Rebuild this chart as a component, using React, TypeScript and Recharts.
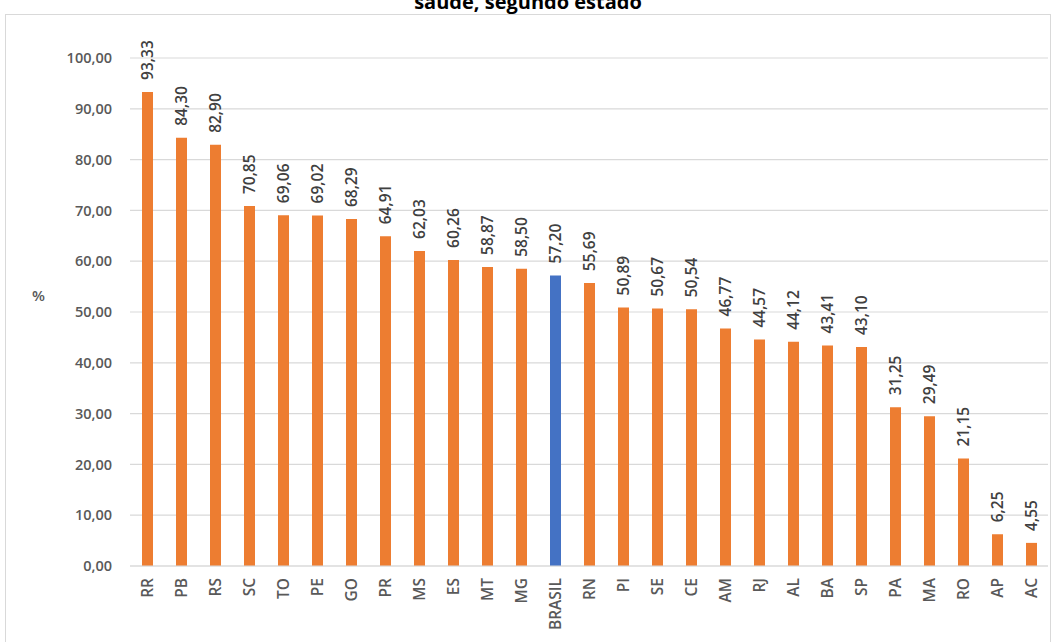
import { BarChart, Bar, XAxis, YAxis, CartesianGrid, Cell, LabelList } from "recharts";

const states = [
  "RR", "PB", "RS", "SC", "TO", "PE", "GO", "PR", "MS", "ES", "MT", "MG", "BRASIL",
  "RN", "PI", "SE", "CE", "AM", "RJ", "AL", "BA", "SP", "PA", "MA", "RO", "AP", "AC",
];

const percentages = [
  93.33, 84.3, 82.9, 70.85, 69.06, 69.02, 68.29, 64.91, 62.03, 60.26, 58.87, 58.5, 57.2,
  55.69, 50.89, 50.67, 50.54, 46.77, 44.57, 44.12, 43.41, 43.1, 31.25, 29.49, 21.15, 6.25, 4.55,
];

const yTicks = [0, 10, 20, 30, 40, 50, 60, 70, 80, 90, 100];

const highlight = "BRASIL";

const data = states.map((state, i) => ({ state, value: percentages[i] }));

const FONT = "'Open Sans', Lato, sans-serif";

function fmt(v: number): string {
  return v.toFixed(2).replace(".", ",");
}

function StateTick(props: any) {
  const { x, y, payload } = props;
  return (
    <text
      x={x}
      y={y + 4}
      transform={`rotate(-90, ${x}, ${y + 4})`}
      textAnchor="end"
      dy="0.36em"
      fill="#595959"
      fontSize={15.5}
      fontWeight={600}
      fontFamily={FONT}
    >
      {payload.value}
    </text>
  );
}

function ValueLabel(props: any) {
  const { x, y, width, value } = props;
  const cx = x + width / 2;
  const ly = y - 12;
  return (
    <text
      x={cx}
      y={ly}
      transform={`rotate(-90, ${cx}, ${ly})`}
      textAnchor="start"
      dy="0.36em"
      fill="#404040"
      fontSize={15.5}
      fontWeight={600}
      fontFamily={FONT}
    >
      {fmt(value)}
    </text>
  );
}

export default function App() {
  return (
    <div
      style={{
        position: "absolute",
        left: 0,
        top: 0,
        width: 1053,
        height: 642,
        overflow: "hidden",
        background: "#fff",
        fontFamily: FONT,
      }}
    >
      <div
        style={{
          position: "absolute",
          left: 0,
          width: 1056,
          top: -8,
          lineHeight: "20px",
          textAlign: "center",
          fontSize: 20,
          fontWeight: 700,
          color: "#000",
        }}
      >
        saúde, segundo estado
      </div>
      <div
        style={{
          position: "absolute",
          left: 5,
          top: 14,
          width: 1044,
          height: 700,
          border: "1px solid #d9d9d9",
          background: "#fff",
        }}
      />
      <div
        style={{
          position: "absolute",
          left: 32,
          top: 285,
          fontSize: 15,
          fontWeight: 600,
          color: "#595959",
        }}
      >
        %
      </div>
      <div style={{ position: "absolute", left: 0, top: 0 }}>
        <BarChart
          width={1053}
          height={642}
          data={data}
          margin={{ top: 58, right: 5, bottom: 6, left: 0 }}
          barCategoryGap={0}
        >
          <CartesianGrid vertical={false} stroke="#d9d9d9" strokeWidth={1.2} />
          <XAxis
            dataKey="state"
            interval={0}
            tickLine={false}
            axisLine={{ stroke: "#d9d9d9", strokeWidth: 1.2 }}
            height={70}
            tick={<StateTick />}
          />
          <YAxis
            width={130}
            domain={[0, 100]}
            ticks={yTicks}
            tickLine={false}
            axisLine={false}
            tickSize={6}
            tickMargin={12}
            tickFormatter={fmt}
            tick={{ fill: "#595959", fontSize: 14.5, fontWeight: 600, fontFamily: FONT }}
          />
          <Bar dataKey="value" barSize={11} isAnimationActive={false}>
            {data.map((d) => (
              <Cell key={d.state} fill={d.state === highlight ? "#4472c4" : "#ed7d31"} />
            ))}
            <LabelList dataKey="value" content={<ValueLabel />} />
          </Bar>
        </BarChart>
      </div>
    </div>
  );
}
